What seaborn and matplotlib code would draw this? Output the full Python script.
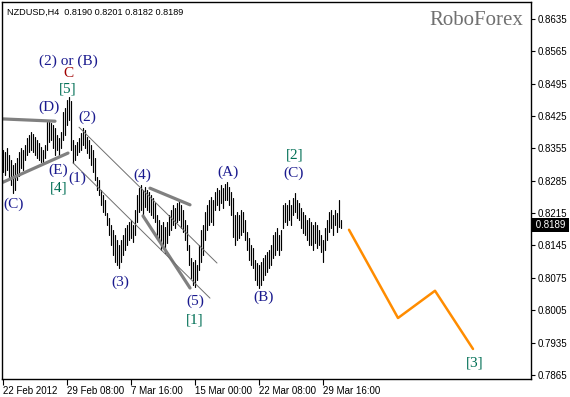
import matplotlib
matplotlib.use("Agg")
import matplotlib.pyplot as plt
import matplotlib.transforms as mtransforms
import numpy as np
import pandas as pd
import seaborn as sns

# ---------------- data ----------------
high = [0.8352, 0.8347, 0.8356, 0.8341, 0.8330, 0.8319, 0.8324, 0.8334, 0.8347, 0.8356,
        0.8352, 0.8362, 0.8378, 0.8384, 0.8391, 0.8386, 0.8380, 0.8373, 0.8367, 0.8358,
        0.8352, 0.8362, 0.8412, 0.8417, 0.8410, 0.8406, 0.8399, 0.8384, 0.8378, 0.8391,
        0.8434, 0.8442, 0.8460, 0.8466, 0.8458, 0.8373, 0.8362, 0.8369, 0.8378, 0.8388,
        0.8399, 0.8395, 0.8380, 0.8373, 0.8362, 0.8352, 0.8334, 0.8293, 0.8287, 0.8265,
        0.8254, 0.8244, 0.8215, 0.8205, 0.8189, 0.8179, 0.8168, 0.8157, 0.8146, 0.8157,
        0.8168, 0.8182, 0.8189, 0.8196, 0.8200, 0.8189, 0.8222, 0.8254, 0.8269, 0.8276,
        0.8265, 0.8272, 0.8265, 0.8261, 0.8254, 0.8248, 0.8237, 0.8211, 0.8200, 0.8189,
        0.8196, 0.8185, 0.8196, 0.8211, 0.8222, 0.8233, 0.8226, 0.8237, 0.8244, 0.8233,
        0.8222, 0.8200, 0.8189, 0.8146, 0.8118, 0.8109, 0.8114, 0.8103, 0.8146, 0.8179,
        0.8189, 0.8218, 0.8233, 0.8244, 0.8250, 0.8244, 0.8261, 0.8269, 0.8265, 0.8276,
        0.8269, 0.8278, 0.8282, 0.8272, 0.8261, 0.8248, 0.8211, 0.8218, 0.8211, 0.8222,
        0.8218, 0.8200, 0.8174, 0.8161, 0.8146, 0.8140, 0.8114, 0.8107, 0.8103, 0.8109,
        0.8118, 0.8125, 0.8131, 0.8135, 0.8146, 0.8168, 0.8174, 0.8182, 0.8168, 0.8179,
        0.8233, 0.8237, 0.8233, 0.8244, 0.8233, 0.8248, 0.8259, 0.8244, 0.8237, 0.8226,
        0.8218, 0.8211, 0.8200, 0.8205, 0.8196, 0.8189, 0.8196, 0.8189, 0.8179, 0.8168,
        0.8157, 0.8182, 0.8200, 0.8218, 0.8222, 0.8211, 0.8222, 0.8215, 0.8244, 0.8201]
low = [0.8304, 0.8298, 0.8308, 0.8291, 0.8276, 0.8259, 0.8265, 0.8287, 0.8295, 0.8313,
       0.8308, 0.8330, 0.8341, 0.8347, 0.8352, 0.8347, 0.8341, 0.8334, 0.8330, 0.8326,
       0.8326, 0.8334, 0.8352, 0.8369, 0.8373, 0.8356, 0.8341, 0.8352, 0.8341, 0.8356,
       0.8373, 0.8384, 0.8406, 0.8417, 0.8352, 0.8324, 0.8330, 0.8341, 0.8347, 0.8352,
       0.8362, 0.8356, 0.8345, 0.8334, 0.8319, 0.8304, 0.8287, 0.8265, 0.8254, 0.8233,
       0.8218, 0.8211, 0.8189, 0.8168, 0.8146, 0.8125, 0.8109, 0.8103, 0.8096, 0.8109,
       0.8125, 0.8135, 0.8146, 0.8157, 0.8161, 0.8153, 0.8168, 0.8196, 0.8218, 0.8222,
       0.8211, 0.8228, 0.8222, 0.8218, 0.8211, 0.8205, 0.8196, 0.8168, 0.8157, 0.8135,
       0.8146, 0.8129, 0.8151, 0.8168, 0.8179, 0.8189, 0.8183, 0.8196, 0.8200, 0.8183,
       0.8174, 0.8157, 0.8135, 0.8103, 0.8075, 0.8060, 0.8055, 0.8071, 0.8092, 0.8109,
       0.8125, 0.8157, 0.8179, 0.8189, 0.8196, 0.8189, 0.8222, 0.8233, 0.8222, 0.8237,
       0.8226, 0.8244, 0.8244, 0.8233, 0.8211, 0.8163, 0.8146, 0.8157, 0.8161, 0.8168,
       0.8174, 0.8157, 0.8135, 0.8114, 0.8103, 0.8096, 0.8071, 0.8060, 0.8053, 0.8060,
       0.8071, 0.8081, 0.8088, 0.8096, 0.8103, 0.8118, 0.8125, 0.8135, 0.8125, 0.8135,
       0.8183, 0.8196, 0.8189, 0.8200, 0.8189, 0.8211, 0.8218, 0.8205, 0.8200, 0.8183,
       0.8172, 0.8168, 0.8157, 0.8146, 0.8146, 0.8135, 0.8151, 0.8140, 0.8146, 0.8131,
       0.8109, 0.8135, 0.8157, 0.8174, 0.8183, 0.8168, 0.8189, 0.8174, 0.8185, 0.8182]

forecast_idx = [173, 197.5, 216, 235]
forecast_price = [0.8179, 0.7988, 0.8047, 0.7921]

# trend lines: (x0, y0, x1, y1, kind)
trend_lines = [
    (-0.5, 0.8419, 26.0, 0.8414, "thick"),
    (0.0, 0.8282, 32.5, 0.8345, "thick"),
    (73.5, 0.8269, 93.5, 0.8233, "thick"),
    (70.0, 0.8209, 93.5, 0.8053, "thick"),
    (38.0, 0.8401, 107.0, 0.8107, "thin"),
    (35.0, 0.8324, 103.5, 0.8031, "thin"),
]

wave_labels = [
    ("(2) or (B)", 32.5, 0.8544, "wave"),
    ("C", 32.5, 0.8518, "red"),
    ("[5]", 32.5, 0.8484, "green"),
    ("(D)", 23.0, 0.8445, "wave"),
    ("(2)", 42.0, 0.8423, "wave"),
    ("(E)", 27.5, 0.8308, "wave"),
    ("[4]", 28.0, 0.8269, "green"),
    ("(1)", 37.0, 0.8291, "wave"),
    ("(C)", 5.5, 0.8235, "wave"),
    ("(3)", 58.5, 0.8066, "wave"),
    ("(4)", 69.5, 0.8298, "wave"),
    ("(5)", 96.0, 0.8025, "wave"),
    ("[1]", 96.0, 0.7984, "green"),
    ("(A)", 112.5, 0.8304, "wave"),
    ("(B)", 130.5, 0.8034, "wave"),
    ("[2]", 146.0, 0.8341, "green"),
    ("(C)", 145.5, 0.8302, "wave"),
    ("[3]", 236.0, 0.7891, "green"),
]

y_ticks = [0.8635, 0.8565, 0.8495, 0.8425, 0.8355, 0.8285, 0.8215, 0.8145,
           0.8075, 0.8005, 0.7935, 0.7865]
x_tick_pos = [0, 32, 64, 96, 128, 160]
x_tick_labels = ["22 Feb 2012", "29 Feb 08:00", "7 Mar 16:00", "15 Mar 00:00",
                 "22 Mar 08:00", "29 Mar 16:00"]
title_text = "NZDUSD,H4  0.8190 0.8201 0.8182 0.8189"
last_price = 0.8189

# ---------------- plot ----------------
sns.set_style("white")
plt.rcParams["font.family"] = ["Liberation Sans", "DejaVu Sans"]

fig = plt.figure(figsize=(5.7, 3.97), dpi=100)
ax = fig.add_axes([2 / 570, 18 / 397, 529 / 570, 377 / 397])

n = len(high)
bars = pd.DataFrame({
    "idx": np.repeat(np.arange(n), 2),
    "price": np.ravel(np.column_stack([low, high])),
    "bar": np.repeat(np.arange(n), 2),
})
sns.lineplot(data=bars, x="idx", y="price", units="bar", estimator=None,
             color="black", lw=0.85, sort=False, ax=ax, legend=False)

for x0, y0, x1, y1, kind in trend_lines:
    tl = pd.DataFrame({"x": [x0, x1], "y": [y0, y1]})
    if kind == "thick":
        sns.lineplot(data=tl, x="x", y="y", color="#808080", lw=2.3, ax=ax,
                     sort=False, estimator=None)
    else:
        sns.lineplot(data=tl, x="x", y="y", color="#6e6e6e", lw=0.7, ax=ax,
                     sort=False, estimator=None)

fc = pd.DataFrame({"x": forecast_idx, "y": forecast_price})
sns.lineplot(data=fc, x="x", y="y", color="#FF8C00", lw=1.8, ax=ax,
             sort=False, estimator=None)

colors = {"wave": "#1a1a8e", "green": "#006f55", "red": "#a00000"}
for txt, x, y, kind in wave_labels:
    ax.text(x, y, txt, ha="center", va="center", fontsize=11,
            family=["Liberation Serif"], color=colors[kind])

ax.set_xlim(-0.5, 264)
ax.set_ylim(0.7856, 0.8672)
ax.set_xlabel("")
ax.set_ylabel("")

ax.yaxis.tick_right()
ax.set_yticks(y_ticks)
ax.set_yticklabels([f"{v:.4f}" for v in y_ticks])
ax.tick_params(axis="y", direction="out", length=3, width=0.8, pad=2,
               labelsize=7, colors="black", right=True, left=False)
ax.set_xticks(x_tick_pos)
ax.set_xticklabels(x_tick_labels, ha="left")
ax.tick_params(axis="x", direction="out", length=4, width=0.8, pad=1,
               labelsize=7, colors="black", bottom=True)

for s in ax.spines.values():
    s.set_color("black")
    s.set_linewidth(1.0)
    s.set_visible(True)

ax.text(0.009, 0.985, title_text, transform=ax.transAxes, ha="left", va="top",
        fontsize=6.6, color="black")
ax.text(0.985, 0.975, "RoboForex", transform=ax.transAxes, ha="right", va="top",
        fontsize=15, family=["Liberation Serif"], color="#707070")

trans = mtransforms.blended_transform_factory(ax.transAxes, ax.transData)
ax.text(1.003, last_price, " 0.8189 ", transform=trans, ha="left", va="center",
        fontsize=7, color="white", clip_on=False,
        bbox=dict(facecolor="black", edgecolor="none", pad=1.2))

fig.savefig("out.png", dpi=100)
